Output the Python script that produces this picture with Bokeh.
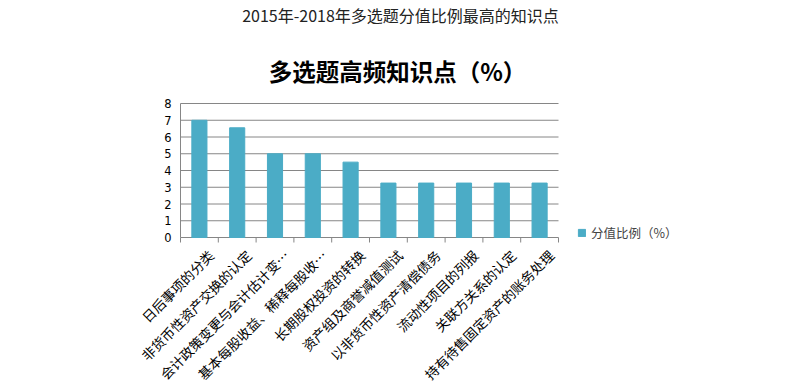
from bokeh.plotting import figure
from bokeh.models import Range1d, Legend, LegendItem, ColumnDataSource, Label
from bokeh.core.properties import value
from bokeh.embed import file_html
from bokeh.resources import INLINE
import math

categories = ["日后事项的分类", "非货币性资产交换的认定", "会计政策变更与会计估计变…",
              "基本每股收益、稀释每股收…", "长期股权投资的转换", "资产组及商誉减值测试",
              "以非货币性资产清偿债务", "流动性项目的列报", "关联方关系的认定",
              "持有待售固定资产的账务处理"]
values = [7, 6.55, 5, 5, 4.5, 3.25, 3.25, 3.25, 3.25, 3.25]
y_ticks = [0, 1, 2, 3, 4, 5, 6, 7, 8]
y_tick_labels = ["0", "1", "2", "3", "4", "5", "6", "7", "8"]
series_name = "分值比例（%）"
title_top = "2015年-2018年多选题分值比例最高的知识点"
title_main = "多选题高频知识点（%）"

n = len(categories)
xs = [i + 0.5 for i in range(n)]
src = ColumnDataSource(dict(x=xs, top=values))
grid_src = ColumnDataSource(dict(x0=[0] * len(y_ticks), x1=[n] * len(y_ticks), y=y_ticks))

# layout: frame covers whole canvas 800x387; plot origin (x=0,y=0) at page (180, 237)
px_cat = 37.8
px_unit = 16.75
W, H = 800, 387
origin_x, origin_y = 180, 237
x_start = -origin_x / px_cat
x_end = (W - origin_x) / px_cat
y_bottom = -(H - origin_y) / px_unit
y_top = origin_y / px_unit

tick_len = 5 / px_unit
tick_src = ColumnDataSource(dict(x=list(range(n + 1)), y0=[0] * (n + 1), y1=[-tick_len] * (n + 1)))
label_src = ColumnDataSource(dict(x=[x + 0.30 for x in xs], y=[0] * n, text=categories))
ylab_src = ColumnDataSource(dict(x=[0] * len(y_ticks), y=y_ticks, text=y_tick_labels))

p = figure(width=W, height=H, output_backend="svg", toolbar_location=None,
           x_range=Range1d(x_start, x_end), y_range=Range1d(y_bottom, y_top),
           x_axis_location=None, y_axis_location=None,
           min_border_left=0, min_border_right=0, min_border_top=0, min_border_bottom=0)
p.outline_line_color = None
p.background_fill_color = None
p.border_fill_color = "white"
p.grid.visible = False

grid_c = "#868686"
p.segment(x0="x0", x1="x1", y0="y", y1="y", source=grid_src, line_color=grid_c, line_width=1)
p.segment(x0="x", x1="x", y0="y0", y1="y1", source=tick_src, line_color=grid_c, line_width=1)
p.segment(x0=[0], x1=[0], y0=[y_ticks[0]], y1=[y_ticks[-1]], line_color=grid_c, line_width=1)
r = p.vbar(x="x", top="top", width=0.4, bottom=0, source=src, color="#4BACC6")

p.text(x="x", y="y", text="text", source=label_src, angle=math.pi / 4,
       text_align="right", text_baseline="middle", y_offset=15,
       text_font=value("Noto Sans CJK SC"), text_font_size="13.5px", text_color="#000000")
p.text(x="x", y="y", text="text", source=ylab_src, x_offset=-9,
       text_align="right", text_baseline="middle",
       text_font=value("DejaVu Sans"), text_font_size="11.5px", text_color="#000000")

p.add_layout(Label(x=400, y=H - 14, x_units="screen", y_units="screen", text=title_top,
                   text_align="center", text_baseline="middle", text_font="Noto Sans CJK SC",
                   text_font_size="16px", text_color="#222222"))
p.add_layout(Label(x=397, y=H - 70, x_units="screen", y_units="screen", text=title_main,
                   text_align="center", text_baseline="middle", text_font="Noto Sans CJK SC",
                   text_font_size="23.5px", text_font_style="bold", text_color="#000000"))

legend = Legend(items=[LegendItem(label=series_name, renderers=[r])],
                location=(577, H - 242), padding=0, margin=0, spacing=0,
                glyph_width=9, glyph_height=9, label_height=14, label_standoff=5,
                label_text_font="Noto Sans CJK SC", label_text_font_size="12.5px",
                border_line_color=None, background_fill_alpha=0)
p.add_layout(legend, "center")

open("out.html", "w").write(file_html(p, INLINE))
